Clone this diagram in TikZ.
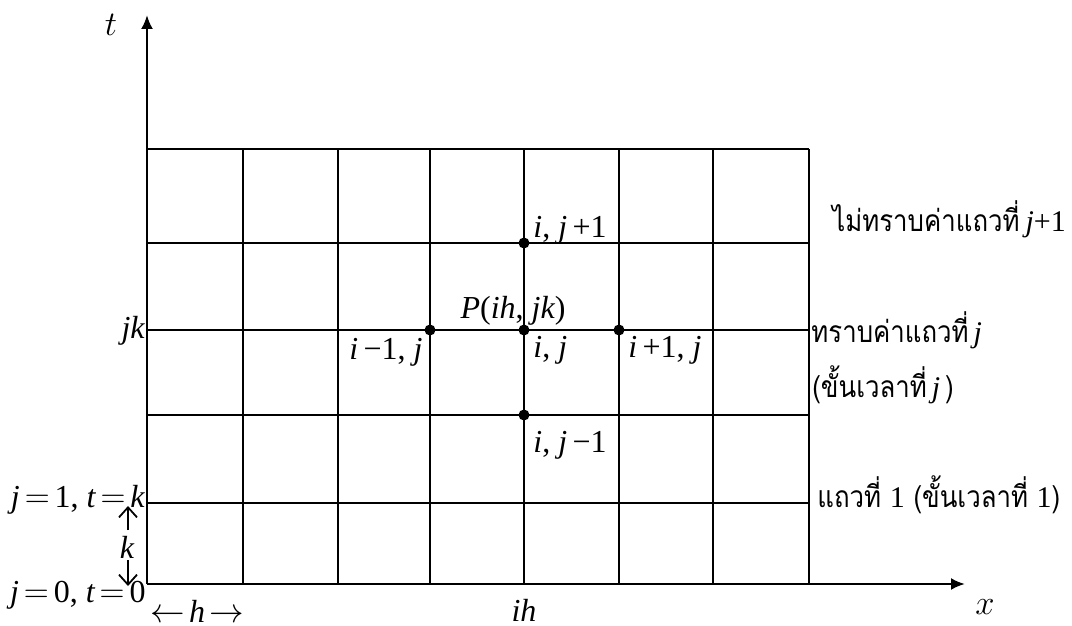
\documentclass[tikz,border=0pt]{standalone}
\usepackage{fontspec}
\setmainfont{Liberation Serif}
\newfontfamily\thai[Script=Thai,FakeStretch=0.86]{Loma}
\usetikzlibrary{arrows.meta}
\newcommand{\vi}[1]{{\rmfamily\itshape #1}}
\newcommand{\eqs}{\hspace{2.5pt}$=$\hspace{2.5pt}}
\begin{document}
\begin{tikzpicture}[x=0.5pt,y=-0.5pt,
  gridline/.style={line width=1.1pt},
  axis/.style={line width=1.2pt,-{Latex[length=7pt,width=6pt]}},
  smallarrow/.style={line width=0.9pt,-{Straight Barb[length=5pt,width=9pt,line width=0.9pt]}},
  dot/.style={circle,fill,inner sep=0pt,minimum size=5.5pt},
  lbl/.style={font=\fontsize{16}{19}\selectfont,inner sep=0pt},
  thlbl/.style={font=\fontsize{15}{18}\selectfont\thai,inner sep=0pt,anchor=base west}]
\useasboundingbox (0,0) rectangle (1072,626);
% grid
\foreach \gx in {243,338,430,524,619,713,809}
  \draw[gridline] (\gx,149) -- (\gx,584);
\foreach \gy in {149,243,330,415,503}
  \draw[gridline] (147,\gy) -- (809,\gy);
% axes
\coordinate (O) at (147,584);
\coordinate (tend) at (147,15);
\coordinate (xend) at (965,584);
\draw[axis] (O) -- (tend);
\draw[axis] (O) -- (xend);
% dots
\node[dot] (pu) at (524,243) {};
\node[dot] (pl) at (430,330) {};
\node[dot] (pc) at (524,330) {};
\node[dot] (pr) at (619,330) {};
\node[dot] (pd) at (524,415) {};
% labels
\node[lbl] (tl) at (111,25) {$t$};
\node[lbl] (xl) at (985,607) {$x$};
\node[lbl,anchor=east] (jk) at (145,331) {\vi{jk}};
\node[lbl,anchor=east] (j1) at (145,500) {\vi{j}\eqs 1, \vi{t}\eqs\vi{k}};
\node[lbl,anchor=east] (j0) at (146,595) {\vi{j}\eqs 0, \vi{t}\eqs 0};
\node[lbl] (kl) at (127,547) {\vi{k}};
\coordinate (ua0) at (128,530);
\coordinate (ua1) at (128,506);
\coordinate (da0) at (128,560);
\coordinate (da1) at (128,586);
\draw[smallarrow] (ua0) -- (ua1);
\draw[smallarrow] (da0) -- (da1);
\node[lbl] (hl) at (197,611) {$\leftarrow$\hspace{2pt}\vi{h}\hspace{2pt}$\rightarrow$};
\node[lbl] (ih) at (524,610) {\vi{ih}};
\node[lbl] (P) at (513,311) {\vi{P}(\vi{ih}, \vi{jk})};
\node[lbl,anchor=east] (lm) at (423,352) {\vi{i}\,−1, \vi{j}};
\node[lbl,anchor=west] (lc) at (533,350) {\vi{i}, \vi{j}};
\node[lbl,anchor=west] (lp) at (628,350) {\vi{i}\,+1, \vi{j}};
\node[lbl,anchor=west] (lu) at (533,230) {\vi{i}, \vi{j}\,+1};
\node[lbl,anchor=west] (ld) at (533,445) {\vi{i}, \vi{j}\,−1};
% thai
\node[thlbl] (t1) at (832,232) {ไม่ทราบค่าแถวที่\hspace{3pt}\vi{j}{\rmfamily +1}};
\node[thlbl] (t2) at (811,343) {ทราบค่าแถวที่\,\vi{j}};
\node[thlbl] (t3) at (812,397) {(ขั้นเวลาที่\,\vi{j}\,)};
\node[thlbl] (t4) at (817,507) {แถวที่ {\rmfamily 1} (ขั้นเวลาที่ {\rmfamily 1})};
\end{tikzpicture}
\end{document}
